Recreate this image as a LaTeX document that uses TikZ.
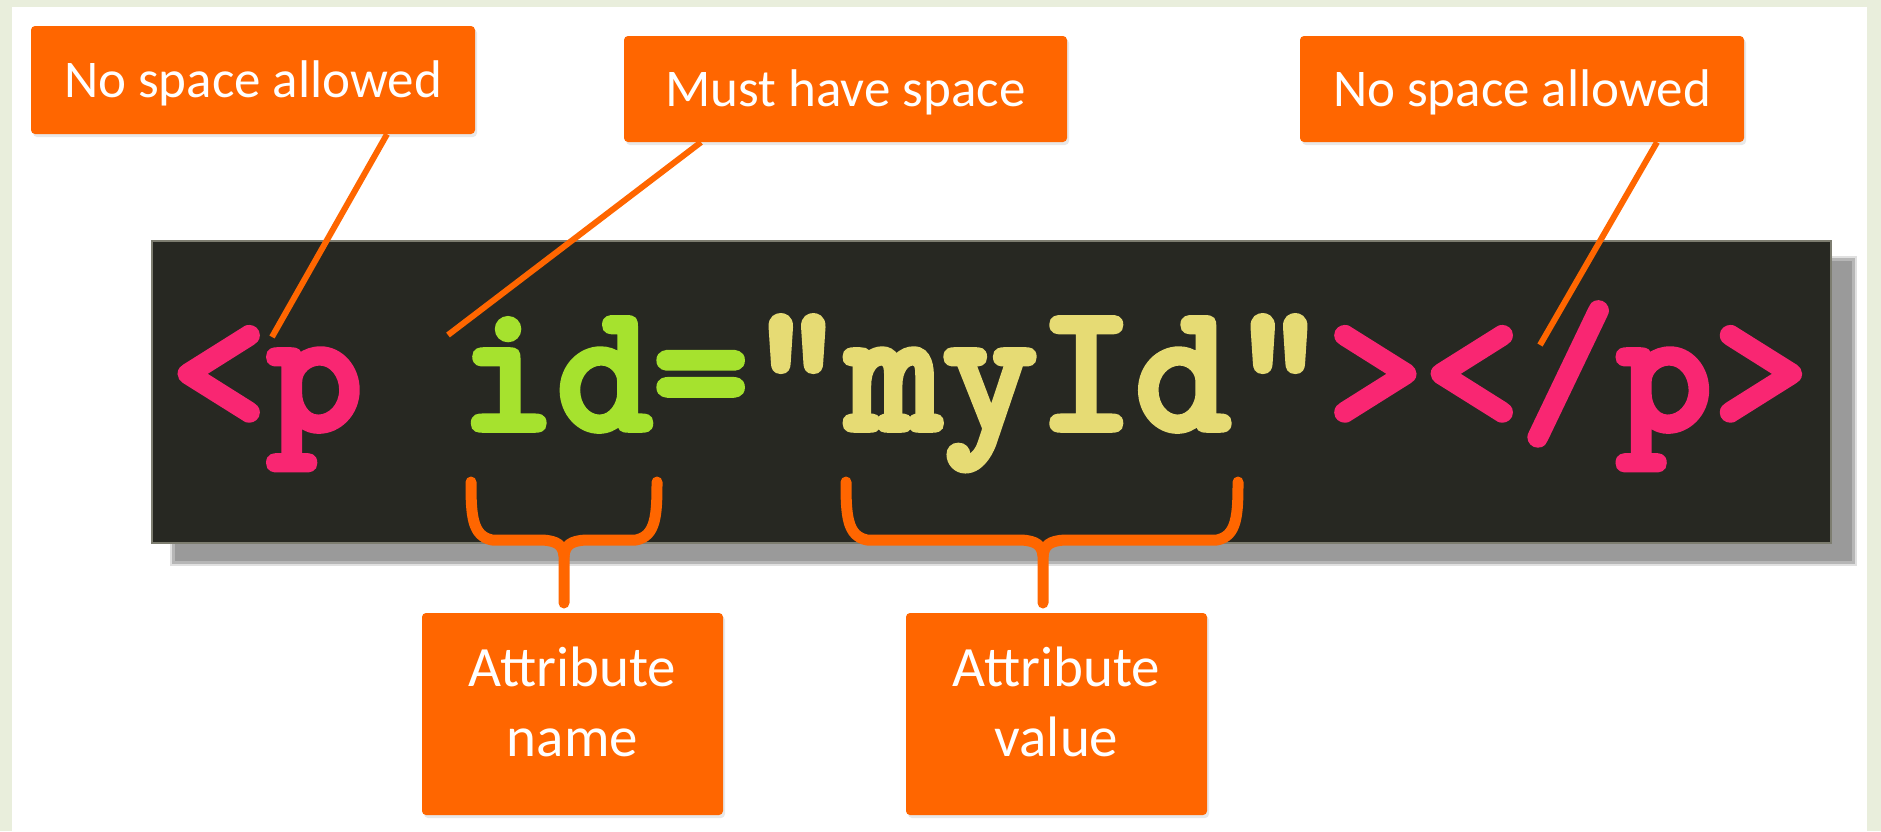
\documentclass[tikz,border=0pt]{standalone}
\usepackage{fontspec}
\setmainfont{Carlito}
\newfontfamily\codefnt{lmmonolt10-bold.otf}[FakeBold=3]
\usetikzlibrary{shadows}
\definecolor{orng}{HTML}{FF6600}
\definecolor{mkbg}{HTML}{272822}
\definecolor{mkpink}{HTML}{F92672}
\definecolor{mkgreen}{HTML}{A6E22E}
\definecolor{mkyellow}{HTML}{E6DB74}
\definecolor{slidebg}{HTML}{E9EEDC}
\definecolor{shad}{HTML}{9A9A9A}
\definecolor{panelrim}{HTML}{7D7D70}
\begin{document}
\begin{tikzpicture}[x=1pt,y=-1pt,
  callout/.style={fill=orng, rounded corners=4pt, text=white, inner sep=0pt,
    drop shadow={shadow xshift=2pt, shadow yshift=-3pt, opacity=0.18},
    font=\fontsize{53}{60}\selectfont, text height=35pt, text depth=0pt},
  lowbox/.style={fill=orng, rounded corners=4pt, text=white, inner sep=0pt,
    drop shadow={shadow xshift=2pt, shadow yshift=-3pt, opacity=0.18},
    align=center, font=\fontsize{57}{70}\selectfont},
  panel/.style={fill=mkbg, draw=panelrim, line width=1.5pt, inner sep=0pt},
  conn/.style={draw=orng, line width=6pt},
  bracestroke/.style={draw=orng, line width=11pt, line cap=round, line join=round},
  codefont/.style={font=\codefnt\fontsize{183.6}{200}\selectfont, inner sep=0pt}
]
\useasboundingbox (0,0) rectangle (1881,831);
\fill[slidebg] (0,0) rectangle (1881,831);
\fill[white] (12,7) rectangle (1867,831);

% shadow of the code panel
\fill[shad, opacity=0.3] (170,256) rectangle (1857,566);
\fill[shad, opacity=0.6] (172,258) rectangle (1855,564);
\fill[shad] (175,261) rectangle (1852,561);

% code panel
\node[panel, minimum width=1679pt, minimum height=302pt] (panel) at (991.5,392) {};
\node[codefont, anchor=base west] (code) at (170.4,430)
  {\textcolor{mkpink}{<p} \textcolor{mkgreen}{id=}\textcolor{mkyellow}{"myId"}\textcolor{mkpink}{></p>}};

% callouts
\node[callout, minimum width=444pt, minimum height=108pt] (b1) at (253,80) {No space allowed};
\node[callout, minimum width=443pt, minimum height=106pt] (b2) at (845.5,89) {Must have space};
\node[callout, minimum width=444pt, minimum height=106pt] (b3) at (1522,89) {No space allowed};

\node[lowbox, minimum width=301pt, minimum height=202pt] (b4) at (572.5,714) {Attribute\\name\rule[-24pt]{0pt}{24pt}};
\node[lowbox, minimum width=301pt, minimum height=202pt] (b5) at (1056.5,714) {Attribute\\value\rule[-24pt]{0pt}{24pt}};

% pointer ends
\coordinate (t1) at (272,337);
\coordinate (t2) at (448,335);
\coordinate (t3) at (1540,345);
\draw[conn] ([xshift=134pt]b1.south) -- (t1);
\draw[conn] ([xshift=-144.5pt]b2.south) -- (t2);
\draw[conn] ([xshift=135pt]b3.south) -- (t3);

% braces
\coordinate (e1) at (564,603);
\coordinate (e2) at (1043,603);
\draw[bracestroke] (471,482) .. controls (471,515) and (472,536) .. (492,540) -- (543,540)
  .. controls (557,541) and (563,545) .. (564,556) -- (e1);
\draw[bracestroke] (657,482) .. controls (657,515) and (656,536) .. (636,540) -- (585,540)
  .. controls (571,541) and (565,545) .. (564,556);
\draw[bracestroke] (846,482) .. controls (846,515) and (847,536) .. (867,540) -- (1022,540)
  .. controls (1036,541) and (1042,545) .. (1043,556) -- (e2);
\draw[bracestroke] (1238,482) .. controls (1238,515) and (1237,536) .. (1217,540) -- (1064,540)
  .. controls (1050,541) and (1044,545) .. (1043,556);
\end{tikzpicture}
\end{document}
